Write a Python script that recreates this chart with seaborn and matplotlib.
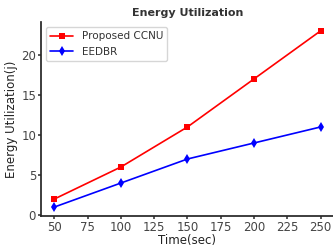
import matplotlib
matplotlib.use("Agg")
import matplotlib.pyplot as plt
import seaborn as sns
import pandas as pd

# ── Data ──────────────────────────────────────────────────
time_sec = [50, 100, 150, 200, 250]
ccnu_energy = [2, 6, 11, 17, 23]
eedbr_energy = [1, 4, 7, 9, 11]

sns.set_theme(style="ticks")
plt.rcParams["font.family"] = ["DejaVu Sans"]

df = pd.DataFrame({
    "Time": time_sec * 2,
    "Energy": ccnu_energy + eedbr_energy,
    "Method": ["Proposed CCNU"] * 5 + ["EEDBR"] * 5,
})

fig = plt.figure(figsize=(3.33, 2.47), dpi=100)
ax = fig.add_axes([0.123, 0.126, 0.88, 0.785])

sns.lineplot(data=df, x="Time", y="Energy", hue="Method", style="Method",
             palette={"Proposed CCNU": "red", "EEDBR": "blue"},
             markers={"Proposed CCNU": "s", "EEDBR": "d"},
             dashes=False, markersize=5, markeredgewidth=0,
             linewidth=1.2, ax=ax)

ax.set_xticks([50, 75, 100, 125, 150, 175, 200, 225, 250])
ax.set_yticks([0, 5, 10, 15, 20])
ax.set_xlim(40, 260)
ax.set_ylim(-0.1, 24.1)
ax.tick_params(labelsize=8.5, colors="#444444", length=2, pad=1.5)
ax.set_xlabel("Time(sec)", fontsize=8.5, color="#222222", labelpad=0)
ax.set_ylabel("Energy Utilization(j)", fontsize=8.5, color="#222222", labelpad=2)
ax.set_title("Energy Utilization", fontsize=8, fontweight="bold",
             color="#333333", pad=4)
sns.despine(ax=ax)

leg = ax.legend(loc="upper left", fontsize=7.5, frameon=True,
                handlelength=2.2, borderpad=0.4, labelspacing=0.5)
for t in leg.get_texts():
    t.set_color("#333333")

fig.savefig("out.png", dpi=100)
